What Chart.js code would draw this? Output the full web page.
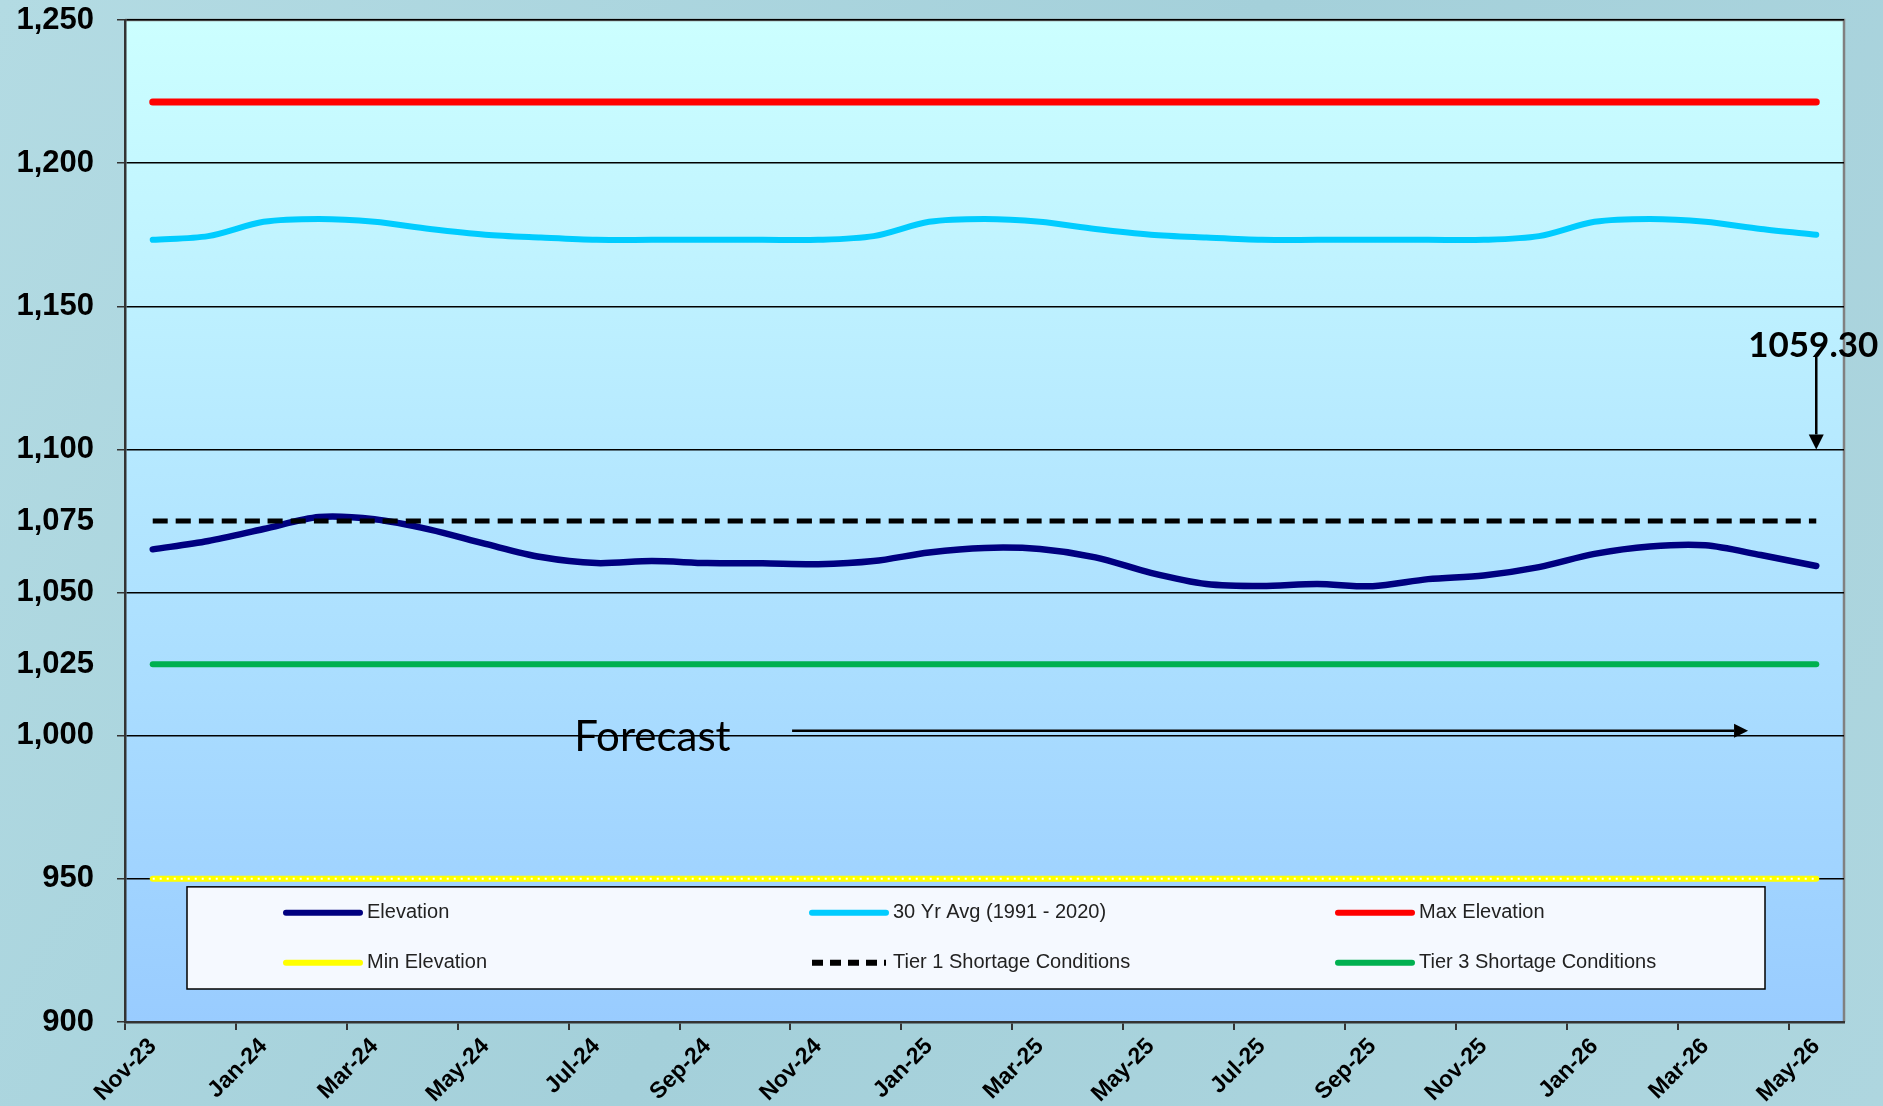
<!DOCTYPE html>
<html>
<head>
<meta charset="utf-8">
<script src="https://cdn.jsdelivr.net/npm/chart.js@4.4.0/dist/chart.umd.min.js"></script>
<style>
  html, body { margin: 0; padding: 0; }
  body { width: 1883px; height: 1106px; overflow: hidden; background: #a8d3dc; }
</style>
</head>
<body>
<canvas id="lakeChart" width="1883" height="1106"></canvas>
<script>
const months = ['Nov-23', 'Dec-23', 'Jan-24', 'Feb-24', 'Mar-24', 'Apr-24', 'May-24', 'Jun-24',
  'Jul-24', 'Aug-24', 'Sep-24', 'Oct-24', 'Nov-24', 'Dec-24', 'Jan-25', 'Feb-25', 'Mar-25',
  'Apr-25', 'May-25', 'Jun-25', 'Jul-25', 'Aug-25', 'Sep-25', 'Oct-25', 'Nov-25', 'Dec-25',
  'Jan-26', 'Feb-26', 'Mar-26', 'Apr-26', 'May-26'];

const elevation = [1065.1, 1068.0, 1072.2, 1076.4, 1075.6, 1072.0, 1067.0, 1062.4, 1060.3, 1061.0,
  1060.3, 1060.2, 1059.9, 1061.0, 1064.0, 1065.6, 1065.2, 1062.3, 1056.9, 1053.0, 1052.3, 1053.0,
  1052.2, 1054.7, 1056.0, 1058.9, 1063.5, 1066.1, 1066.5, 1063.1, 1059.3];

const avg30 = [1173.2, 1174.5, 1179.5, 1180.5, 1179.5, 1177.0, 1175.0, 1174.0, 1173.2, 1173.2,
  1173.2, 1173.2, 1173.2, 1174.5, 1179.5, 1180.5, 1179.5, 1177.0, 1175.0, 1174.0, 1173.2, 1173.2,
  1173.2, 1173.2, 1173.2, 1174.5, 1179.5, 1180.5, 1179.5, 1177.0, 1175.0];

const maxElev = [1221.4, 1221.4, 1221.4, 1221.4, 1221.4, 1221.4, 1221.4, 1221.4, 1221.4, 1221.4,
  1221.4, 1221.4, 1221.4, 1221.4, 1221.4, 1221.4, 1221.4, 1221.4, 1221.4, 1221.4, 1221.4, 1221.4,
  1221.4, 1221.4, 1221.4, 1221.4, 1221.4, 1221.4, 1221.4, 1221.4, 1221.4];

const minElev = [950, 950, 950, 950, 950, 950, 950, 950, 950, 950, 950, 950, 950, 950, 950, 950,
  950, 950, 950, 950, 950, 950, 950, 950, 950, 950, 950, 950, 950, 950, 950];

const tier1 = [1075, 1075, 1075, 1075, 1075, 1075, 1075, 1075, 1075, 1075, 1075, 1075, 1075, 1075,
  1075, 1075, 1075, 1075, 1075, 1075, 1075, 1075, 1075, 1075, 1075, 1075, 1075, 1075, 1075, 1075, 1075];

const tier3 = [1025, 1025, 1025, 1025, 1025, 1025, 1025, 1025, 1025, 1025, 1025, 1025, 1025, 1025,
  1025, 1025, 1025, 1025, 1025, 1025, 1025, 1025, 1025, 1025, 1025, 1025, 1025, 1025, 1025, 1025, 1025];

const yTicks = [900, 950, 1000, 1025, 1050, 1075, 1100, 1150, 1200, 1250];

Chart.defaults.font.family = '"Liberation Sans", Arial, sans-serif';

// page texture + plot gradient
const backdrop = {
  id: 'backdrop',
  beforeDraw(chart) {
    const { ctx, chartArea: a, width, height } = chart;
    ctx.save();
    const bg = ctx.createLinearGradient(0, 0, width, height);
    bg.addColorStop(0, '#b3dbe3');
    bg.addColorStop(0.5, '#a4d0da');
    bg.addColorStop(1, '#aed6df');
    ctx.fillStyle = bg;
    ctx.fillRect(0, 0, width, height);
    const g = ctx.createLinearGradient(0, a.top, 0, a.bottom);
    g.addColorStop(0, '#ccffff');
    g.addColorStop(1, '#99ccff');
    ctx.fillStyle = g;
    ctx.fillRect(a.left, a.top, a.right - a.left, a.bottom - a.top);
    ctx.strokeStyle = '#808080';
    ctx.lineWidth = 2.5;
    ctx.beginPath();
    ctx.moveTo(a.left, a.top);
    ctx.lineTo(a.right, a.top);
    ctx.lineTo(a.right, a.bottom);
    ctx.stroke();
    ctx.restore();
  },
  // white dots along the yellow min line
  afterDatasetsDraw(chart) {
    const pts = chart.getDatasetMeta(3).data;
    if (!pts.length) return;
    const { ctx } = chart;
    ctx.save();
    ctx.strokeStyle = '#ffffff';
    ctx.lineWidth = 2;
    ctx.setLineDash([2, 5]);
    ctx.beginPath();
    ctx.moveTo(pts[0].x, pts[0].y);
    ctx.lineTo(pts[pts.length - 1].x, pts[pts.length - 1].y);
    ctx.stroke();
    ctx.restore();
  }
};

function arrow(ctx, x1, y1, x2, y2, head) {
  const ang = Math.atan2(y2 - y1, x2 - x1);
  const bx = x2 - head * Math.cos(ang), by = y2 - head * Math.sin(ang);
  ctx.beginPath();
  ctx.moveTo(x1, y1);
  ctx.lineTo(bx, by);
  ctx.stroke();
  ctx.beginPath();
  ctx.moveTo(x2, y2);
  ctx.lineTo(bx + head * 0.5 * Math.sin(ang), by - head * 0.5 * Math.cos(ang));
  ctx.lineTo(bx - head * 0.5 * Math.sin(ang), by + head * 0.5 * Math.cos(ang));
  ctx.closePath();
  ctx.fill();
}

const notes = {
  id: 'notes',
  afterDraw(chart) {
    const { ctx, chartArea } = chart;
    const x = chart.scales.x, y = chart.scales.y;
    ctx.save();
    ctx.fillStyle = '#000';
    ctx.strokeStyle = '#000';
    ctx.lineWidth = 2.5;

    // Forecast
    ctx.font = '42px Lato, "DejaVu Sans", sans-serif';
    ctx.textAlign = 'left';
    ctx.textBaseline = 'middle';
    ctx.fillText('Forecast', x.getPixelForValue(7.6), y.getPixelForValue(999.5));
    arrow(ctx, x.getPixelForValue(11.53), y.getPixelForValue(1001.7),
      x.getPixelForValue(28.77), y.getPixelForValue(1001.7), 14);

    // last value callout
    const lx = x.getPixelForValue(30);
    ctx.font = 'bold 35px Lato, "DejaVu Sans", sans-serif';
    ctx.textAlign = 'center';
    ctx.fillText('1059.30', lx - 3, y.getPixelForValue(1136.3));
    arrow(ctx, lx, y.getPixelForValue(1132.5), lx, y.getPixelForValue(1100), 15);

    // legend box inside plot area
    const left = chartArea.left + 62, right = chartArea.right - 79;
    const top = y.getPixelForValue(950) + 8, bottom = chartArea.bottom - 33;
    ctx.fillStyle = '#f5f9ff';
    ctx.fillRect(left, top, right - left, bottom - top);
    ctx.lineWidth = 1.5;
    ctx.strokeRect(left, top, right - left, bottom - top);
    ctx.font = '20px "Liberation Sans", Arial, sans-serif';
    ctx.textAlign = 'left';
    chart.data.datasets.forEach((ds, i) => {
      const sx = left + 99 + (i % 3) * 526;
      const sy = top + 26 + Math.floor(i / 3) * 50;
      ctx.beginPath();
      ctx.strokeStyle = ds.borderColor;
      ctx.lineWidth = 6;
      ctx.lineCap = ds.borderDash ? 'butt' : 'round';
      ctx.setLineDash(ds.borderDash ? [11, 7] : []);
      ctx.moveTo(sx, sy);
      ctx.lineTo(sx + 74, sy);
      ctx.stroke();
      ctx.setLineDash([]);
      ctx.fillStyle = '#222';
      ctx.fillText(ds.label, sx + 81, sy);
    });
    ctx.restore();
  }
};

const lineStyle = { pointRadius: 0, borderWidth: 6, borderCapStyle: 'round', tension: 0.3, fill: false };

new Chart(document.getElementById('lakeChart'), {
  type: 'line',
  data: {
    labels: months,
    datasets: [
      { ...lineStyle, label: 'Elevation', data: elevation, borderColor: '#000080', borderWidth: 6.5, order: 1 },
      { ...lineStyle, label: '30 Yr Avg (1991 - 2020)', data: avg30, borderColor: '#00ccff', order: 0 },
      { ...lineStyle, label: 'Max Elevation', data: maxElev, borderColor: '#ff0000', borderWidth: 7, order: 0 },
      { ...lineStyle, label: 'Min Elevation', data: minElev, borderColor: '#ffff00', order: 0 },
      { ...lineStyle, label: 'Tier 1 Shortage Conditions', data: tier1, borderColor: '#000000',
        borderWidth: 5, borderDash: [15, 8], borderCapStyle: 'butt', order: 0 },
      { ...lineStyle, label: 'Tier 3 Shortage Conditions', data: tier3, borderColor: '#00b050', order: 0 }
    ]
  },
  options: {
    responsive: false,
    animation: false,
    devicePixelRatio: 1,
    layout: { padding: { top: 20, right: 39, left: 0, bottom: 0 } },
    plugins: {
      legend: { display: false },
      tooltip: { enabled: false }
    },
    scales: {
      x: {
        offset: true,
        afterFit: s => { s.height = 84; },
        grid: {
          offset: true,
          drawOnChartArea: false,
          tickLength: 8,
          lineWidth: 2,
          tickColor: c => (c.index % 2 === 0 ? '#333' : 'rgba(0,0,0,0)')
        },
        border: { color: '#333', width: 2.5 },
        ticks: {
          autoSkip: false,
          maxRotation: 45,
          minRotation: 45,
          padding: 3,
          color: '#000',
          font: { size: 23, weight: 'bold' },
          callback: function (v, i) { return i % 2 === 0 ? this.getLabelForValue(v) : ''; }
        }
      },
      y: {
        min: 900,
        max: 1250,
        afterFit: s => { s.width = 125; s.paddingTop = 0; s.paddingBottom = 0; },
        afterBuildTicks: s => { s.ticks = yTicks.map(v => ({ value: v })); },
        grid: {
          color: c => (c.tick && c.tick.value % 50 === 0 ? '#000' : 'rgba(0,0,0,0)'),
          tickColor: c => (c.tick && c.tick.value % 50 === 0 ? '#333' : 'rgba(0,0,0,0)'),
          lineWidth: 1.5,
          tickLength: 8
        },
        border: { color: '#333', width: 2.5 },
        ticks: {
          padding: 23,
          color: '#000',
          font: { size: 31, weight: 'bold' },
          callback: v => v.toLocaleString('en-US')
        }
      }
    }
  },
  plugins: [backdrop, notes]
});
</script>
</body>
</html>
